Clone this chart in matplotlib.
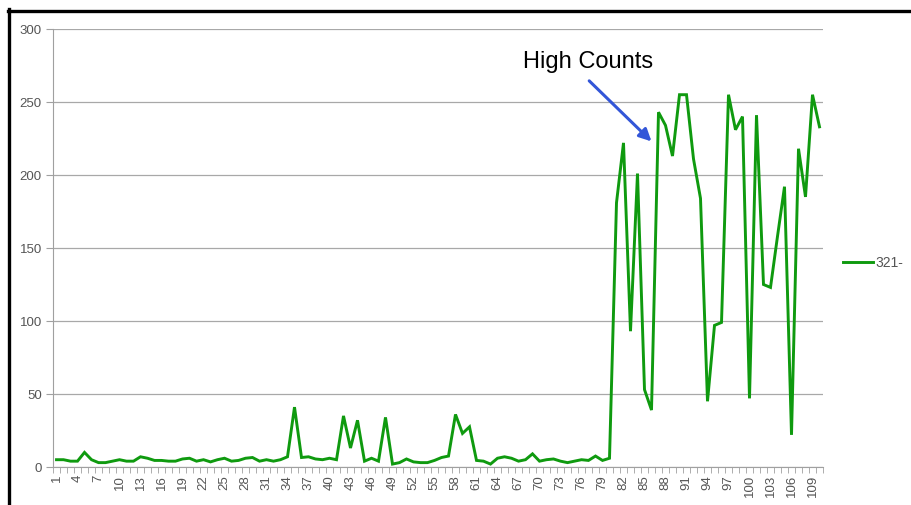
import matplotlib
matplotlib.use("Agg")
import matplotlib.pyplot as plt
from matplotlib.lines import Line2D
import numpy as np

categories = list(range(1, 111))
series_name = "321-"
values = [5, 5, 4, 4, 10, 5, 3, 3, 4, 5,
          4, 4, 7, 6, 4.5, 4.5, 4, 4, 5.5, 6,
          4, 5, 3.5, 5, 6, 4, 4.5, 6, 6.5, 4,
          5, 4, 5, 7, 41, 6.5, 7, 5.5, 5, 6,
          5, 35, 13, 32, 4, 6, 4, 34, 2, 3,
          5.5, 3.5, 3, 3, 4.5, 6.5, 7.5, 36, 23, 27.5,
          4.5, 4, 2, 6, 7, 6, 4, 5, 9, 4,
          5, 5.5, 4, 3, 4, 5, 4.5, 7.5, 4.5, 6,
          181, 222, 93, 201, 53, 39, 243, 234, 213, 255,
          255, 211, 184, 45, 97, 99, 255, 231, 240, 47,
          241, 125, 123, 158, 192, 22, 218, 185, 255, 233]
x_tick_labels = [str(c) for c in categories[::3]]
y_ticks = [0, 50, 100, 150, 200, 250, 300]
annotation_text = "High Counts"

plt.rcParams['font.family'] = ['Liberation Sans', 'DejaVu Sans']

W, H = 912, 506
fig = plt.figure(figsize=(W / 100, H / 100), dpi=100)
ax = fig.add_axes([53 / W, 1 - 468 / H, (823 - 53) / W, (468 - 30) / H])

green = '#0f9a0f'
ax.plot(categories, values, color=green, lw=2.1, solid_joinstyle='miter', zorder=3)

ax.set_xlim(0.5, len(categories) + 0.5)
ax.set_ylim(0, 300)
ax.set_yticks(y_ticks)
ax.yaxis.grid(True, color='#a8a8a8', lw=0.9)
ax.set_axisbelow(True)
for s in ['top', 'right']:
    ax.spines[s].set_visible(False)
ax.spines['left'].set_color('#a0a0a0')
ax.spines['bottom'].set_color('#a0a0a0')
ax.tick_params(axis='y', colors='#a0a0a0', labelcolor='#555555', labelsize=9.5, length=5, pad=3)

ax.set_xticks(categories[::3])
ax.set_xticklabels(x_tick_labels, rotation=90)
ax.set_xticks(np.arange(0.5, len(categories) + 1, 1), minor=True)
ax.tick_params(axis='x', which='major', length=0, labelsize=9.5, labelcolor='#555555', pad=5)
ax.tick_params(axis='x', which='minor', length=4, color='#a0a0a0')

ax.text(76.9, 278, annotation_text, fontsize=17, color='black', ha='center', va='center')
ax.annotate('', xy=(86.0, 223.0), xytext=(77.1, 264.5),
            arrowprops=dict(arrowstyle='-|>', color='#3356d8', lw=2.2,
                            mutation_scale=18, shrinkA=0, shrinkB=0))

# legend
fig.add_artist(Line2D([843 / W, 873 / W], [1 - 263 / H, 1 - 263 / H], color=green, lw=2.1))
fig.text(875 / W, 1 - 263 / H, series_name, fontsize=10, color='#555555', va='center', ha='left')

# black frame
fig.add_artist(Line2D([9.5 / W, 9.5 / W], [1 - 10 / H, 0], color='black', lw=2.4))
fig.add_artist(Line2D([8 / W, 1], [1 - 11.5 / H, 1 - 11.5 / H], color='black', lw=2.4))

fig.savefig('out.png', dpi=100)
